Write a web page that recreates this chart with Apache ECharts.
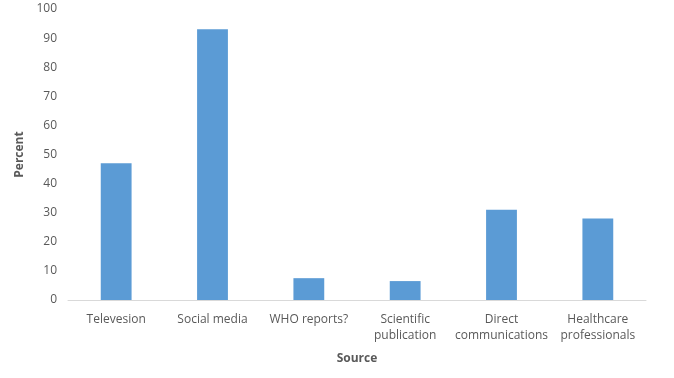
<!DOCTYPE html>
<html><head><meta charset="utf-8">
<script src="https://cdn.jsdelivr.net/npm/echarts@6/dist/echarts.min.js"></script>
<style>html,body{margin:0;padding:0;background:#fff}#c{width:674px;height:378px}</style>
</head><body><div id="c"></div>
<script>
var categories = ["Televesion", "Social media", "WHO reports?", "Scientific\npublication", "Direct\ncommunications", "Healthcare\nprofessionals"];
var values = [47, 93, 7.5, 6.5, 31, 28];
var yTicks = {min: 0, max: 100, interval: 10};
var chart = echarts.init(document.getElementById('c'));
chart.setOption({
  animation: false,
  grid: {left: 68, right: 28, top: 9, bottom: 78},
  xAxis: {
    type: 'category', data: categories,
    name: 'Source', nameLocation: 'middle', nameGap: 53,
    nameTextStyle: {fontFamily: 'Open Sans', fontWeight: 'bold', fontSize: 12, color: '#595959'},
    axisLine: {lineStyle: {color: '#d9d9d9'}},
    axisTick: {show: false},
    axisLabel: {fontFamily: 'Open Sans', fontSize: 12, color: '#595959', margin: 12, lineHeight: 16, interval: 0}
  },
  yAxis: {
    type: 'value', min: yTicks.min, max: yTicks.max, interval: yTicks.interval,
    name: 'Percent', nameLocation: 'middle', nameGap: 37, nameRotate: 90,
    nameTextStyle: {fontFamily: 'Open Sans', fontWeight: 'bold', fontSize: 12, color: '#595959'},
    axisLine: {show: false}, axisTick: {show: false}, splitLine: {show: false},
    axisLabel: {fontFamily: 'Open Sans', fontSize: 12, color: '#595959', margin: 11}
  },
  series: [{type: 'bar', data: values, barWidth: '32%', itemStyle: {color: '#5B9BD5'}}]
});
</script></body></html>
